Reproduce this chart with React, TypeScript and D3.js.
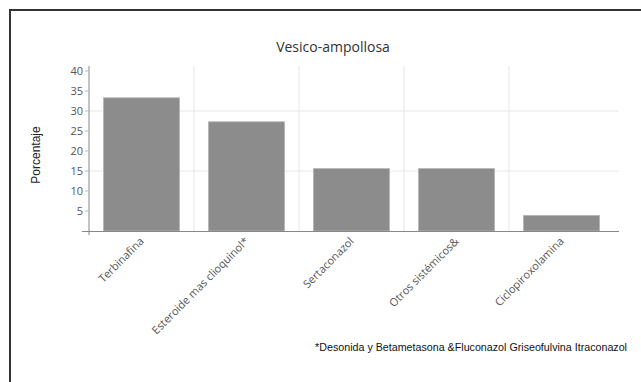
import React from "react";
import * as d3 from "d3";

const categories = ["Terbinafina", "Esteroide mas clioquinol*", "Sertaconazol", "Otros sistémicos&", "Ciclopiroxolamina"];
const values = [33.3, 27.3, 15.6, 15.6, 3.9];
const yTicks = [5, 10, 15, 20, 25, 30, 35, 40];
const yGrid = [15, 30];
const title = "Vesico-ampollosa";
const yLabel = "Porcentaje";
const footnote = "*Desonida y Betametasona &Fluconazol Griseofulvina Itraconazol";

export default function App() {
  const W = 641, H = 382;
  const left = 89, right = 614, top = 71, bottom = 231;
  const x = d3.scaleBand<string>().domain(categories).range([left, right]).paddingInner(0.276).paddingOuter(0.138);
  const y = d3.scaleLinear().domain([0, 40]).range([bottom, top]);
  const step = x.step();
  const font = "'Open Sans', sans-serif";
  return (
    <svg width={W} height={H} style={{ position: "absolute", left: 0, top: 0, background: "#fff" }}>
      <rect x={10} y={10} width={W} height={H} fill="#fff" stroke="#333" strokeWidth={2} />
      <text x={333} y={52} textAnchor="middle" fontFamily={font} fontSize={14} fill="#333">{title}</text>
      {yGrid.map((v) => (
        <line key={"hg" + v} x1={left} x2={619} y1={y(v)} y2={y(v)} stroke="#e6e6e6" strokeWidth={1} />
      ))}
      {categories.slice(1).map((c) => (
        <line key={"vg" + c} x1={(x(c) as number) - (step * 0.276) / 2} x2={(x(c) as number) - (step * 0.276) / 2} y1={66} y2={bottom} stroke="#e6e6e6" strokeWidth={1} />
      ))}
      {categories.map((c, i) => (
        <rect key={c} x={x(c)} y={y(values[i])} width={x.bandwidth()} height={bottom - y(values[i])} fill="#8c8c8c" stroke="#b5b5b5" strokeWidth={0.8} />
      ))}
      <line x1={left} x2={left} y1={66} y2={235} stroke="#888" strokeWidth={1} />
      <line x1={82} x2={619} y1={bottom + 0.5} y2={bottom + 0.5} stroke="#888" strokeWidth={1.2} />
      {yTicks.map((t) => (
        <g key={"yt" + t}>
          <line x1={left - 4} x2={left} y1={y(t)} y2={y(t)} stroke="#bbb" strokeWidth={1} />
          <text x={83} y={y(t) + 4} textAnchor="end" fontFamily={font} fontSize={11} fill="#555">{t}</text>
        </g>
      ))}
      <text transform={`translate(40,155) rotate(-90)`} textAnchor="middle" fontFamily="Arial, 'Liberation Sans', sans-serif" fontSize={12} fill="#222">{yLabel}</text>
      {categories.map((c) => {
        const cx = (x(c) as number) + x.bandwidth() / 2 + 3;
        return (
          <text key={"xl" + c} transform={`translate(${cx},${bottom + 11}) rotate(-45)`} textAnchor="end" fontFamily={font} fontSize={11} fill="#555">{c}</text>
        );
      })}
      <text x={627} y={351} textAnchor="end" fontFamily="Arial, 'Liberation Sans', sans-serif" fontSize={10.7} fill="#111">{footnote}</text>
    </svg>
  );
}
